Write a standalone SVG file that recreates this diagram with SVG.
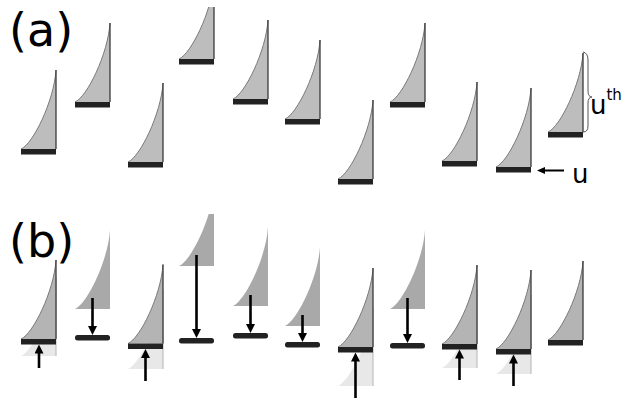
<svg xmlns="http://www.w3.org/2000/svg" xmlns:xlink="http://www.w3.org/1999/xlink" width="633" height="401" viewBox="0 0 633 401">
<style>
.sa{fill:#bdbdbd}
.sb{fill:#b4b4b4}
.sd{fill:#a9a9a9}
.sl{fill:#e8e8e8}
.cv{fill:none;stroke:#6f6f6f;stroke-width:0.9}
.re{fill:none;stroke:#3a3a3a;stroke-width:1.3}
.rl{fill:none;stroke:#b4b4b4;stroke-width:1}
.bar{fill:#222}
.arr{fill:none;stroke:#000;stroke-width:2.6;marker-end:url(#ah)}
.arr2{fill:none;stroke:#000;stroke-width:2;marker-end:url(#ah2)}
.lbl{font-family:"DejaVu Sans","Liberation Sans",sans-serif;fill:#000}
.brace{fill:none;stroke:#555;stroke-width:1}
</style>
<defs>
<path id="sail" d="M0,0 C12,-5 33,-48 35,-79 L35,0 Z"/>
<path id="curve" d="M0,0 C12,-5 33,-48 35,-79"/>
<path id="redge" d="M35,-79 V0"/>
<marker id="ah" markerUnits="userSpaceOnUse" markerWidth="10" markerHeight="10" refX="1" refY="4.5" orient="auto"><path d="M0,0 L9,4.5 L0,9 Z" fill="#000"/></marker>
<marker id="ah2" markerUnits="userSpaceOnUse" markerWidth="10" markerHeight="10" refX="1" refY="3.5" orient="auto"><path d="M0,0 L8,3.5 L0,7 Z" fill="#000"/></marker>
<clipPath id="clip4" clipPathUnits="userSpaceOnUse"><rect x="-3" y="7" width="42" height="60"/><rect x="-3" y="214" width="42" height="53"/></clipPath>
</defs>

<text class="lbl" x="9" y="46" font-size="46">(a)</text>
<text class="lbl" x="9" y="257" font-size="46">(b)</text>

<!-- row (a) -->
<g id="a1" transform="translate(21,0)"><use href="#sail" class="sa" y="149"/><use href="#curve" class="cv" y="149"/><use href="#redge" class="re" y="149"/><rect class="bar" y="149" width="35" height="5.5"/></g>
<g id="a2" transform="translate(75,0)"><use href="#sail" class="sa" y="102"/><use href="#curve" class="cv" y="102"/><use href="#redge" class="re" y="102"/><rect class="bar" y="102" width="35" height="5.5"/></g>
<g id="a3" transform="translate(128,0)"><use href="#sail" class="sa" y="162"/><use href="#curve" class="cv" y="162"/><use href="#redge" class="re" y="162"/><rect class="bar" y="162" width="35" height="5.5"/></g>
<g id="a4" transform="translate(179,0)"><g clip-path="url(#clip4)"><use href="#sail" class="sa" y="59"/><use href="#curve" class="cv" y="59"/><use href="#redge" class="re" y="59"/></g><rect class="bar" y="59" width="35" height="5.5"/></g>
<g id="a5" transform="translate(233,0)"><use href="#sail" class="sa" y="99"/><use href="#curve" class="cv" y="99"/><use href="#redge" class="re" y="99"/><rect class="bar" y="99" width="35" height="5.5"/></g>
<g id="a6" transform="translate(285,0)"><use href="#sail" class="sa" y="119"/><use href="#curve" class="cv" y="119"/><use href="#redge" class="re" y="119"/><rect class="bar" y="119" width="35" height="5.5"/></g>
<g id="a7" transform="translate(338,0)"><use href="#sail" class="sa" y="179"/><use href="#curve" class="cv" y="179"/><use href="#redge" class="re" y="179"/><rect class="bar" y="179" width="35" height="5.5"/></g>
<g id="a8" transform="translate(390,0)"><use href="#sail" class="sa" y="102"/><use href="#curve" class="cv" y="102"/><use href="#redge" class="re" y="102"/><rect class="bar" y="102" width="35" height="5.5"/></g>
<g id="a9" transform="translate(442,0)"><use href="#sail" class="sa" y="161"/><use href="#curve" class="cv" y="161"/><use href="#redge" class="re" y="161"/><rect class="bar" y="161" width="35" height="5.5"/></g>
<g id="a10" transform="translate(496,0)"><use href="#sail" class="sa" y="167"/><use href="#curve" class="cv" y="167"/><use href="#redge" class="re" y="167"/><rect class="bar" y="167" width="35" height="5.5"/></g>
<g id="a11" transform="translate(548,0)"><use href="#sail" class="sa" y="132"/><use href="#curve" class="cv" y="132"/><use href="#redge" class="re" y="132"/><rect class="bar" y="132" width="35" height="5.5"/></g>
<g id="uth">
<path class="brace" d="M583,52 Q588,53 588,60 L588,91 Q588,97 592,97 Q588,97 588,103 L588,126 Q588,132 583,132"/>
<text class="lbl" x="590" y="114" font-size="26">u<tspan font-size="15" dy="-14">th</tspan></text>
</g>
<text class="lbl" x="572" y="183" font-size="26">u</text>

<!-- row (b) -->
<g id="b1" transform="translate(21,0)"><use href="#sail" class="sl" y="356"/><use href="#redge" class="rl" y="356"/><use href="#sail" class="sb" y="339"/><use href="#curve" class="cv" y="339"/><use href="#redge" class="re" y="339"/><rect class="bar" y="339" width="35" height="5.5"/></g>
<g id="b2" transform="translate(75,0)"><use href="#sail" class="sd" y="309"/><rect class="bar" y="335" width="35" height="5.5" rx="2.5"/></g>
<g id="b3" transform="translate(128,0)"><use href="#sail" class="sl" y="369"/><use href="#redge" class="rl" y="369"/><use href="#sail" class="sb" y="343.5"/><use href="#curve" class="cv" y="343.5"/><use href="#redge" class="re" y="343.5"/><rect class="bar" y="343.5" width="35" height="5.5"/></g>
<g id="b4" transform="translate(179,0)"><g clip-path="url(#clip4)"><use href="#sail" class="sd" y="266"/></g><rect class="bar" y="338" width="35" height="5.5" rx="2.5"/></g>
<g id="b5" transform="translate(233,0)"><use href="#sail" class="sd" y="306"/><rect class="bar" y="333" width="35" height="5.5" rx="2.5"/></g>
<g id="b6" transform="translate(285,0)"><use href="#sail" class="sd" y="326"/><rect class="bar" y="342" width="35" height="5.5" rx="2.5"/></g>
<g id="b7" transform="translate(338,0)"><use href="#sail" class="sl" y="386"/><use href="#redge" class="rl" y="386"/><use href="#sail" class="sb" y="347"/><use href="#curve" class="cv" y="347"/><use href="#redge" class="re" y="347"/><rect class="bar" y="347" width="35" height="5.5"/></g>
<g id="b8" transform="translate(390,0)"><use href="#sail" class="sd" y="309"/><rect class="bar" y="343" width="35" height="5.5" rx="2.5"/></g>
<g id="b9" transform="translate(442,0)"><use href="#sail" class="sl" y="368"/><use href="#redge" class="rl" y="368"/><use href="#sail" class="sb" y="344"/><use href="#curve" class="cv" y="344"/><use href="#redge" class="re" y="344"/><rect class="bar" y="344" width="35" height="5.5"/></g>
<g id="b10" transform="translate(496,0)"><use href="#sail" class="sl" y="374"/><use href="#redge" class="rl" y="374"/><use href="#sail" class="sb" y="349"/><use href="#curve" class="cv" y="349"/><use href="#redge" class="re" y="349"/><rect class="bar" y="349" width="35" height="5.5"/></g>
<g id="b11" transform="translate(548,0)"><use href="#sail" class="sb" y="340"/><use href="#curve" class="cv" y="340"/><use href="#redge" class="re" y="340"/><rect class="bar" y="340" width="35" height="5.5"/></g>

<g id="connectors">
<line class="arr2" x1="564" y1="170.5" x2="544" y2="170.5"/>
<line class="arr" x1="39" y1="368" x2="39" y2="352.5"/>
<line class="arr" x1="92.5" y1="298" x2="92.5" y2="327"/>
<line class="arr" x1="145.5" y1="381" x2="145.5" y2="357"/>
<line class="arr" x1="196.5" y1="255" x2="196.5" y2="330"/>
<line class="arr" x1="250.5" y1="295" x2="250.5" y2="325"/>
<line class="arr" x1="302.5" y1="315" x2="302.5" y2="334"/>
<line class="arr" x1="355.5" y1="398" x2="355.5" y2="360.5"/>
<line class="arr" x1="407.5" y1="298" x2="407.5" y2="335"/>
<line class="arr" x1="459.5" y1="380" x2="459.5" y2="357.5"/>
<line class="arr" x1="513.5" y1="386" x2="513.5" y2="362.5"/>
</g>
</svg>
